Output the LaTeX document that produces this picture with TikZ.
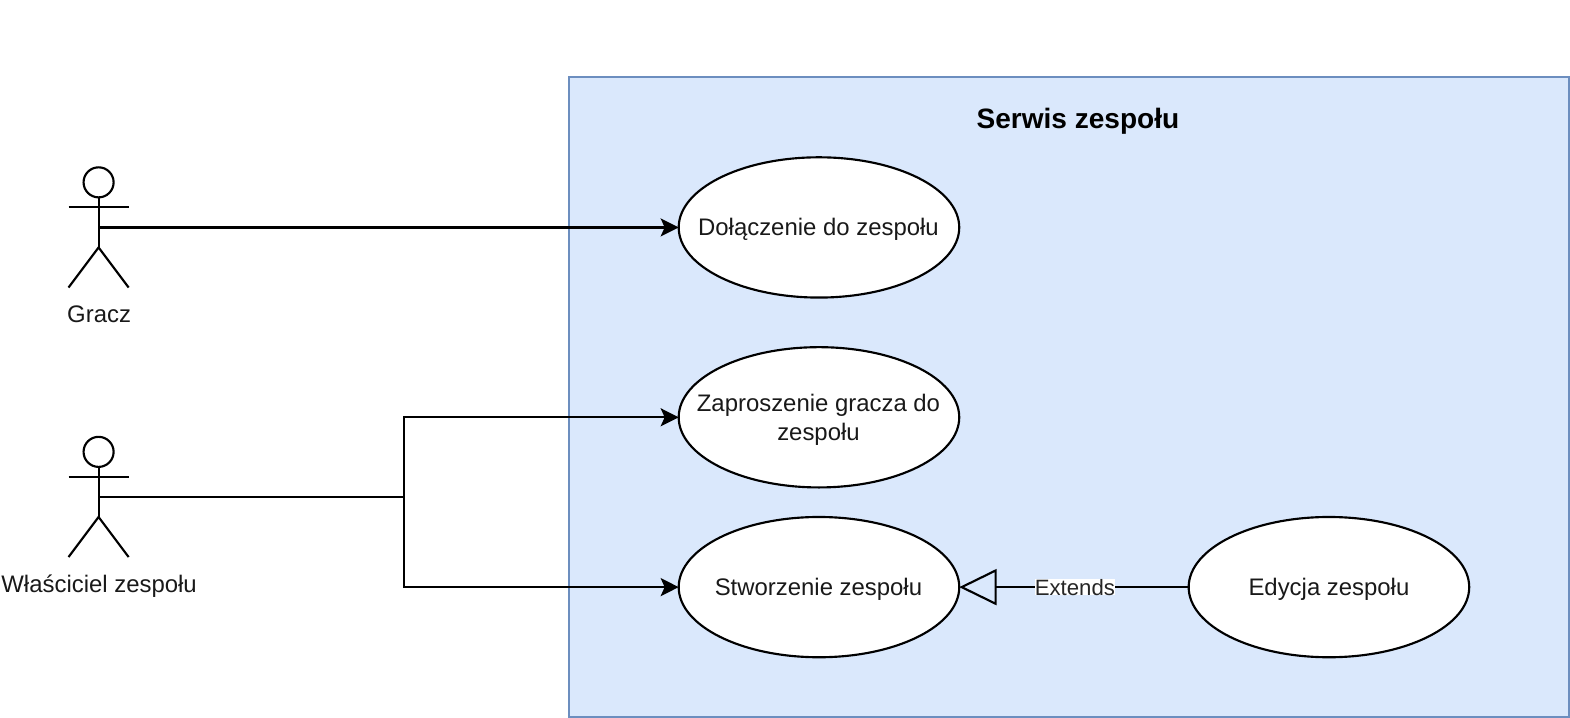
\documentclass[tikz,border=0pt]{standalone}
\usepackage{fontspec}
\setmainfont{Liberation Sans}
\usetikzlibrary{arrows.meta,shapes.geometric}
\definecolor{panelfill}{HTML}{DAE8FC}
\definecolor{panelline}{HTML}{6C8EBF}
\tikzset{
  x=0.75pt,y=-0.75pt,
  usecase/.style={ellipse,draw=black,fill=white,line width=1.6pt,minimum width=210pt,minimum height=105pt,inner sep=0pt,outer sep=0pt},
  casetext/.style={align=center,font=\fontsize{17.9pt}{21pt}\selectfont,inner sep=0pt,text=black!90},
  stick/.style={draw=black,line width=1.6pt},
  conn/.style={draw=black,line width=1.6pt,-{Stealth[length=13.5pt,width=13.5pt,inset=3pt]}},
  plainconn/.style={draw=black,line width=1.6pt},
  extends/.style={draw=black,line width=1.6pt,-{Triangle[open,length=28pt,width=27pt,line width=1.6pt]}},
  caption/.style={font=\fontsize{17.9pt}{21pt}\selectfont,inner sep=0pt,text=black!90},
}
\begin{document}
\begin{tikzpicture}
\useasboundingbox (0.6,0) rectangle (1567.6,716.6);
\node[draw=panelline,fill=panelfill,line width=1.5pt,minimum width=748.5pt,minimum height=479.25pt,inner sep=0pt,outer sep=0pt,anchor=north west] (panel) at (568.5,77) {};
\node[font=\bfseries\fontsize{21pt}{25pt}\selectfont,inner sep=0pt] (title) at (1076.5,121.5) {Serwis zespołu};
\node[usecase] (join) at (818,227) {};
\node[usecase] (invite) at (818,416.5) {};
\node[usecase] (create) at (818,586) {};
\node[usecase] (edit) at (1327,586) {};
\node[casetext] (jointext) at (817.5,229) {Dołączenie do zespołu};
\node[casetext] (invitetext) at (817.5,419) {Zaproszenie gracza do\\zespołu};
\node[casetext] (createtext) at (817.5,588.5) {Stworzenie zespołu};
\node[casetext] (edittext) at (1327,588.5) {Edycja zespołu};
% actor: Gracz
\node[circle,stick,fill=white,minimum size=22.5pt,inner sep=0pt,outer sep=0pt] (headA) at (99,182) {};
\coordinate (hipA) at (99,247);
\coordinate (midA) at (99,227);
\draw[stick] (headA.south) -- (hipA);
\draw[stick] (69,206.5) -- (129,206.5);
\draw[stick] (69,287) -- (hipA) -- (129,287);
\node[caption] (gracz) at (99.5,314) {Gracz};
% actor: Wlasciciel
\node[circle,stick,fill=white,minimum size=22.5pt,inner sep=0pt,outer sep=0pt] (headB) at (99,451) {};
\coordinate (hipB) at (99,516);
\coordinate (midB) at (99,496);
\coordinate (fork) at (404,496);
\draw[stick] (headB.south) -- (hipB);
\draw[stick] (69,476.5) -- (129,476.5);
\draw[stick] (69,556) -- (hipB) -- (129,556);
\node[caption] (owner) at (99.5,585) {Właściciel zespołu};
% connectors
\draw[conn] (midA) -- (join.west);
\draw[plainconn] (midB) -- (fork);
\draw[conn] (fork) |- (invite.west);
\draw[conn] (fork) |- (create.west);
\draw[extends] (edit.west) -- node[pos=0.496,fill=white,inner sep=0pt,font=\fontsize{16.6pt}{20pt}\selectfont,text=black!85] (extlabel) {Extends} (create.east);
\end{tikzpicture}
\end{document}
